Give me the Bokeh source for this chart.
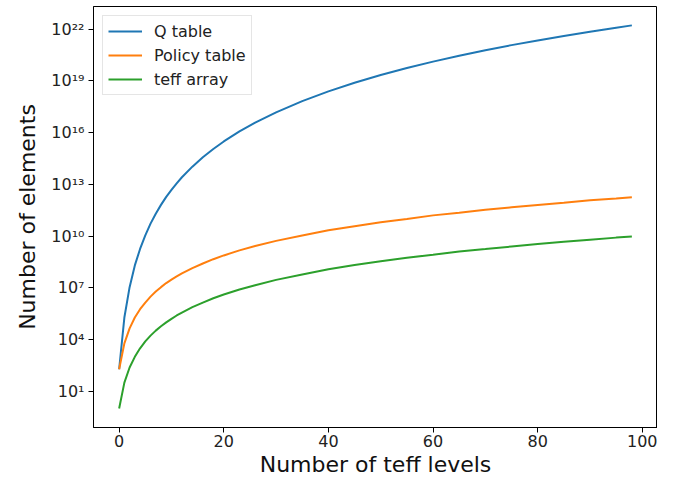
from bokeh.plotting import figure
from bokeh.models import FixedTicker, CustomJSTickFormatter, Range1d
from bokeh.embed import file_html
from bokeh.resources import INLINE

# Data
levels = [0, 1, 2, 3, 4, 5, 6, 7, 8, 9, 10, 11, 12, 14, 16, 18, 20, 23, 26, 30, 35, 40, 45,
          50, 55, 60, 65, 70, 75, 80, 85, 90, 95, 98]
teff_array = [1, 32, 240, 1.0e3, 3.1e3, 7.8e3, 1.7e4, 3.3e4, 5.9e4, 1.0e5, 1.6e5, 2.5e5, 3.7e5,
              7.6e5, 1.4e6, 2.5e6, 4.1e6, 8.0e6, 1.4e7, 2.9e7, 6.0e7, 1.2e8, 2.1e8, 3.5e8, 5.5e8,
              8.4e8, 1.3e9, 1.8e9, 2.5e9, 3.5e9, 4.7e9, 6.2e9, 8.2e9, 9.5e9]
policy_table = [190, 6.0e3, 4.5e4, 1.9e5, 5.8e5, 1.4e6, 3.1e6, 6.1e6, 1.1e7, 1.9e7, 3.0e7, 4.6e7,
                6.9e7, 1.4e8, 2.6e8, 4.6e8, 7.6e8, 1.5e9, 2.7e9, 5.3e9, 1.1e10, 2.2e10, 3.8e10,
                6.4e10, 1.0e11, 1.6e11, 2.3e11, 3.4e11, 4.7e11, 6.5e11, 8.7e11, 1.2e12, 1.5e12,
                1.8e12]
q_table = [190, 1.9e5, 1.1e7, 2.0e8, 1.8e9, 1.1e10, 5.3e10, 2.0e11, 6.5e11, 1.9e12, 4.8e12,
           1.15e13, 2.6e13, 1.07e14, 3.75e14, 1.14e15, 3.1e15, 1.18e16, 3.83e16, 1.52e17, 6.8e17,
           2.5e18, 7.9e18, 2.2e19, 5.6e19, 1.33e20, 2.9e20, 6.1e20, 1.2e21, 2.26e21, 4.1e21,
           7.2e21, 1.24e22, 1.68e22]
x_ticks = [0, 20, 40, 60, 80, 100]
y_ticks = [1e1, 1e4, 1e7, 1e10, 1e13, 1e16, 1e19, 1e22]

FONT = "DejaVu Sans"

p = figure(width=657, height=479, y_axis_type="log", output_backend="svg",
           toolbar_location=None,
           x_range=Range1d(-4.9, 102.9), y_range=Range1d(10 ** -1.1, 10 ** 23.32),
           min_border_left=93, min_border_right=0, min_border_top=6, min_border_bottom=30)

p.line(levels, q_table, line_color="#1f77b4", line_width=2, legend_label="Q table")
p.line(levels, policy_table, line_color="#ff7f0e", line_width=2, legend_label="Policy table")
p.line(levels, teff_array, line_color="#2ca02c", line_width=2, legend_label="teff array")

p.grid.visible = False
p.outline_line_color = "black"
p.outline_line_width = 1
p.background_fill_color = "white"
p.border_fill_color = "white"

p.xaxis.ticker = FixedTicker(ticks=x_ticks, minor_ticks=[])
p.yaxis.ticker = FixedTicker(ticks=y_ticks, minor_ticks=[])
p.yaxis.formatter = CustomJSTickFormatter(code=r"""
const sup = {"0":"\u2070","1":"\u00b9","2":"\u00b2","3":"\u00b3","4":"\u2074",
             "5":"\u2075","6":"\u2076","7":"\u2077","8":"\u2078","9":"\u2079","-":"\u207b"};
const e = Math.round(Math.log10(tick));
return "10" + String(e).split("").map(c => sup[c]).join("");
""")

for ax in (p.xaxis[0], p.yaxis[0]):
    ax.axis_line_color = "black"
    ax.axis_line_width = 1
    ax.major_tick_line_color = "black"
    ax.major_tick_out = 5
    ax.major_tick_in = 0
    ax.minor_tick_out = 0
    ax.minor_tick_in = 0
    ax.major_label_text_font = FONT
    ax.major_label_text_font_size = "16px"
    ax.major_label_text_color = "#222222"
    ax.axis_label_text_font = FONT
    ax.axis_label_text_font_size = "22px"
    ax.axis_label_text_font_style = "normal"
    ax.axis_label_text_color = "#111111"

p.xaxis.major_label_standoff = 2
p.xaxis.axis_label_standoff = 2
p.yaxis.major_label_standoff = 4
p.yaxis.axis_label_standoff = 8

p.xaxis.axis_label = "Number of teff levels"
p.yaxis.axis_label = "Number of elements"

lg = p.legend[0]
lg.location = "top_left"
lg.margin = 9
lg.padding = 5
lg.spacing = 4
lg.glyph_width = 34
lg.glyph_height = 20
lg.label_height = 20
lg.label_standoff = 12
lg.label_text_font = FONT
lg.label_text_font_size = "16px"
lg.label_text_color = "#222222"
lg.border_line_color = "#cccccc"
lg.border_line_width = 1
lg.background_fill_alpha = 0.8

open("out.html", "w", encoding="utf-8").write(file_html(p, INLINE))
